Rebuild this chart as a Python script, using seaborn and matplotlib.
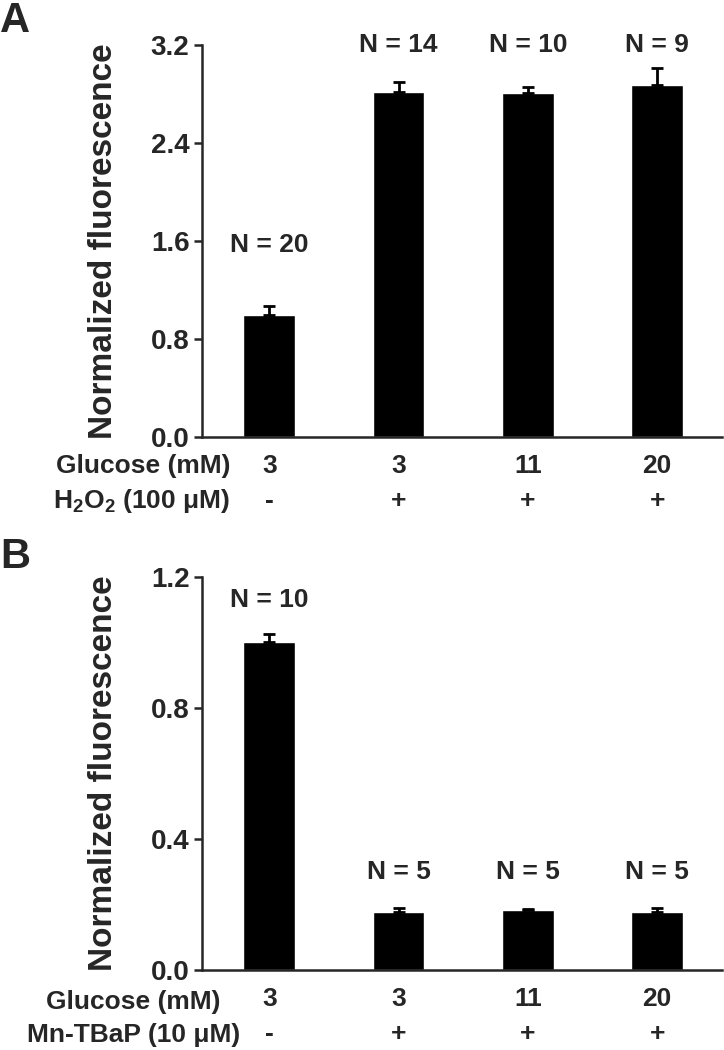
import matplotlib
matplotlib.use("Agg")
import matplotlib.pyplot as plt
import numpy as np
import pandas as pd
import seaborn as sns

sns.set_style("ticks")
plt.rcParams["font.family"] = ["Liberation Sans", "DejaVu Sans"]
plt.rcParams["font.weight"] = "bold"
plt.rcParams["mathtext.fontset"] = "custom"
plt.rcParams["mathtext.rm"] = "Liberation Sans:bold"
plt.rcParams["mathtext.it"] = "Liberation Sans:bold"
plt.rcParams["mathtext.bf"] = "Liberation Sans:bold"

# data
groups = ["c1", "c2", "c3", "c4"]
glucose = ["3", "3", "11", "20"]
h2o2 = ["-", "+", "+", "+"]
mntbap = ["-", "+", "+", "+"]

mean_a = [1.00, 2.82, 2.81, 2.87]
sem_a = [0.07, 0.08, 0.05, 0.14]
n_a = [20, 14, 10, 9]

mean_b = [1.00, 0.178, 0.183, 0.178]
sem_b = [0.025, 0.012, 0.003, 0.012]
n_b = [10, 5, 5, 5]

fig = plt.figure(figsize=(7.24, 10.5), dpi=100)
ax1 = fig.add_axes([0.279, 0.5838, 0.718, 0.3733])
ax2 = fig.add_axes([0.279, 0.0762, 0.718, 0.3743])


def panel(ax, means, sems, ns, n_y, ymax, yticks):
    df = pd.DataFrame({"group": groups, "value": means})
    sns.barplot(data=df, x="group", y="value", color="black", saturation=1,
                width=0.4, errorbar=None, ax=ax, zorder=2)
    ax.errorbar(np.arange(len(means)), means, yerr=[np.zeros(len(sems)), sems],
                fmt="none", ecolor="black", elinewidth=2, capsize=4, capthick=2, zorder=3)
    for i, n in enumerate(ns):
        ax.text(i, n_y[i], f"N = {n}", ha="center", va="center", fontsize=19,
                fontweight="bold")
    ax.set_xlim(-0.52, 3.5)
    ax.set_ylim(0, ymax)
    ax.set_yticks(yticks)
    ax.set_yticklabels([f"{t:.1f}" for t in yticks])
    sns.despine(ax=ax)
    for s in ["left", "bottom"]:
        ax.spines[s].set_linewidth(1.8)
    ax.tick_params(axis="y", length=6, width=1.8, labelsize=20, pad=3)
    ax.tick_params(axis="x", bottom=False, labelbottom=False)
    ax.set_xlabel("")
    ax.set_ylabel("Normalized fluorescence", fontsize=24, fontweight="bold")
    ax.yaxis.set_label_coords(-0.16, 0.5)


def rows(ax, vals1, vals2, y1, y2, lab1, lab2, r1, r2):
    for i, (a, b) in enumerate(zip(vals1, vals2)):
        ax.annotate(a, xy=(i, 0), xycoords=("data", "axes fraction"),
                    xytext=(0, -29), textcoords="offset pixels",
                    ha="center", va="center", fontsize=19, fontweight="bold")
        ax.annotate(b, xy=(i, 0), xycoords=("data", "axes fraction"),
                    xytext=(0, -64), textcoords="offset pixels",
                    ha="center", va="center", fontsize=19, fontweight="bold")
    fig.text(r1, y1, lab1, ha="right", va="center", fontsize=19, fontweight="bold")
    fig.text(r2, y2, lab2, ha="right", va="center", fontsize=19, fontweight="bold")


panel(ax1, mean_a, sem_a, n_a, [1.57, 3.2, 3.2, 3.2], 3.2, [0.0, 0.8, 1.6, 2.4, 3.2])
panel(ax2, mean_b, sem_b, n_b, [1.13, 0.30, 0.30, 0.30], 1.2, [0.0, 0.4, 0.8, 1.2])

rows(ax1, glucose, h2o2, 1 - 466 / 1050, 1 - 501 / 1050,
     "Glucose (mM)", r"H$_2$O$_2$ (100 μM)", 230 / 724, 230 / 724)
rows(ax2, glucose, mntbap, 1 - 1002 / 1050, 1 - 1035 / 1050,
     "Glucose (mM)", "Mn-TBaP (10 μM)", 220 / 724, 240 / 724)

fig.text(0.0, 0.999, "A", ha="left", va="top", fontsize=30, fontweight="bold")
fig.text(0.0, 0.489, "B", ha="left", va="top", fontsize=30, fontweight="bold")

fig.savefig("out.png", dpi=100)
